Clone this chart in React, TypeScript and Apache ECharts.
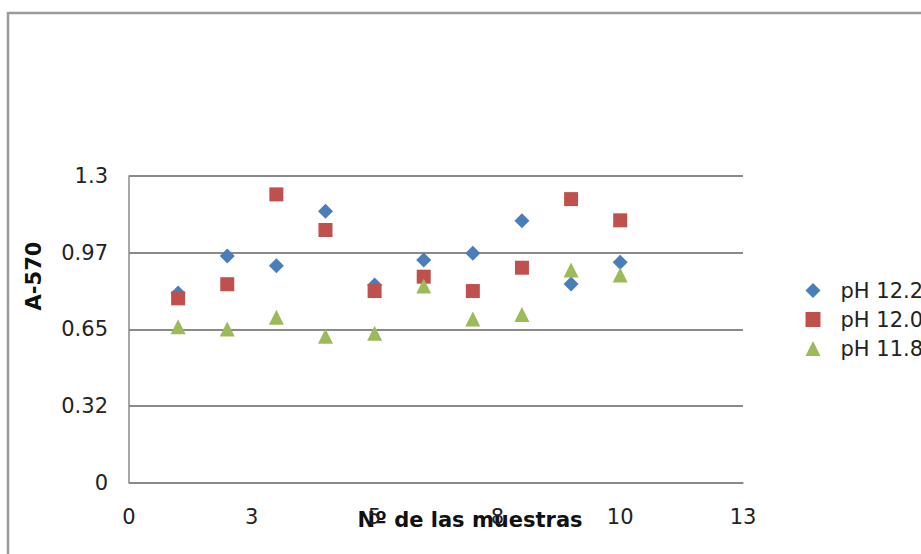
import React, { useEffect, useRef } from "react";
import * as echarts from "echarts";

const sampleNumbers = [1, 2, 3, 4, 5, 6, 7, 8, 9, 10];
const ph122 = [0.804, 0.961, 0.919, 1.151, 0.838, 0.944, 0.972, 1.11, 0.842, 0.934];
const ph120 = [0.781, 0.841, 1.222, 1.071, 0.812, 0.873, 0.812, 0.911, 1.202, 1.112];
const ph118 = [0.661, 0.651, 0.701, 0.62, 0.633, 0.833, 0.693, 0.713, 0.901, 0.88];
const seriesNames = ["pH 12.2", "pH 12.0", "pH 11.8"];
const xTickLabels = ["0", "3", "5", "8", "10", "13"];
const yTickLabels = ["0", "0.32", "0.65", "0.97", "1.3"];
const X_INTERVAL = 2.5;
const Y_INTERVAL = 0.325;

const FONT = "DejaVu Sans, Verdana, sans-serif";

export default function App() {
  const ref = useRef<HTMLDivElement>(null);
  useEffect(() => {
    if (!ref.current) return;
    const chart = echarts.init(ref.current, undefined, { renderer: "svg" });
    const toPairs = (ys: number[]) => sampleNumbers.map((x, i) => [x, ys[i]]);
    chart.setOption({
      animation: false,
      backgroundColor: "#ffffff",
      textStyle: { fontFamily: FONT },
      grid: { left: 129, top: 176, width: 614, height: 306.5, containLabel: false },
      xAxis: {
        type: "value",
        min: 0,
        max: X_INTERVAL * (xTickLabels.length - 1),
        interval: X_INTERVAL,
        axisLine: { show: true, lineStyle: { color: "#8a8a8a", width: 1.5 } },
        axisTick: { show: false },
        splitLine: { show: false },
        axisLabel: {
          margin: 24,
          fontSize: 21,
          color: "#222",
          fontFamily: FONT,
          formatter: (v: number) => xTickLabels[Math.round(v / X_INTERVAL)] ?? "",
        },
      },
      yAxis: {
        type: "value",
        min: 0,
        max: Y_INTERVAL * (yTickLabels.length - 1),
        interval: Y_INTERVAL,
        axisLine: { show: true, lineStyle: { color: "#8a8a8a", width: 1.5 } },
        axisTick: { show: false },
        splitLine: { show: true, lineStyle: { color: "#8a8a8a", width: 1.8 } },
        axisLabel: {
          margin: 21,
          fontSize: 21,
          color: "#222",
          fontFamily: FONT,
          padding: [6, 0, 0, 0],
          formatter: (v: number) => yTickLabels[Math.round(v / Y_INTERVAL)] ?? "",
        },
      },
      legend: {
        orient: "vertical",
        left: 800.5,
        top: 275,
        itemWidth: 15,
        itemHeight: 15,
        itemGap: 8,
        textStyle: { fontSize: 21, lineHeight: 21, color: "#222", fontFamily: FONT, padding: [0, 0, 0, 15] },
        data: [
          { name: seriesNames[0], icon: "diamond" },
          { name: seriesNames[1], icon: "rect" },
          { name: seriesNames[2], icon: "triangle" },
        ],
      },
      graphic: [
        {
          type: "rect",
          z: -10,
          shape: { x: 8, y: 13, width: 1200, height: 1000 },
          style: { fill: "none", stroke: "#9a9a9a", lineWidth: 2.5 },
        },
        {
          type: "text",
          x: 34,
          y: 276,
          rotation: Math.PI / 2,
          style: {
            text: "A-570",
            fontSize: 21,
            fontWeight: "bold",
            fontFamily: FONT,
            fill: "#111",
            align: "center",
            verticalAlign: "middle",
          },
        },
        {
          type: "text",
          x: 470,
          y: 520,
          style: {
            text: "Nº de las muestras",
            fontSize: 21,
            fontWeight: "bold",
            fontFamily: FONT,
            fill: "#111",
            align: "center",
            verticalAlign: "middle",
          },
        },
      ],
      series: [
        {
          name: seriesNames[0],
          type: "scatter",
          symbol: "diamond",
          symbolSize: 15,
          itemStyle: { color: "#4A7EBB", opacity: 1 },
          data: toPairs(ph122),
        },
        {
          name: seriesNames[1],
          type: "scatter",
          symbol: "rect",
          symbolSize: 14,
          itemStyle: { color: "#C0504D", opacity: 1 },
          data: toPairs(ph120),
        },
        {
          name: seriesNames[2],
          type: "scatter",
          symbol: "triangle",
          symbolSize: 15,
          itemStyle: { color: "#9BBB59", opacity: 1 },
          data: toPairs(ph118),
        },
      ],
    });
    return () => chart.dispose();
  }, []);
  return (
    <div
      ref={ref}
      style={{ position: "fixed", left: 0, top: 0, width: 921, height: 554 }}
    />
  );
}
